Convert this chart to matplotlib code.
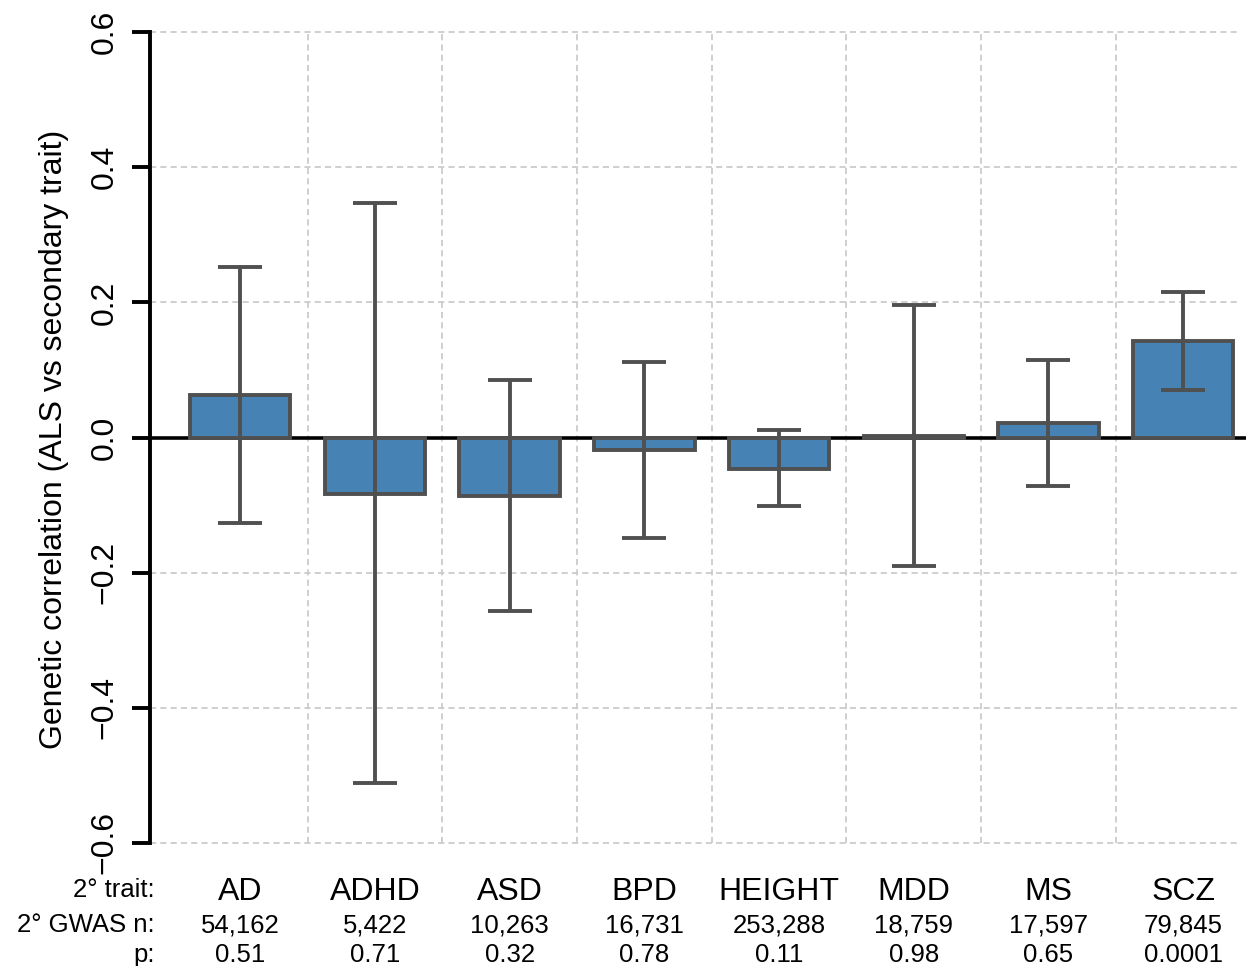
import numpy as np
import matplotlib
matplotlib.use("Agg")
import matplotlib.pyplot as plt
from matplotlib.transforms import blended_transform_factory

plt.rcParams['font.family'] = ['Liberation Sans', 'DejaVu Sans']

# genetic correlation of ALS with each secondary trait, with 95% CI
traits = ["AD", "ADHD", "ASD", "BPD", "HEIGHT", "MDD", "MS", "SCZ"]
gwas_n = ["54,162", "5,422", "10,263", "16,731", "253,288", "18,759", "17,597", "79,845"]
pvals = ["0.51", "0.71", "0.32", "0.78", "0.11", "0.98", "0.65", "0.0001"]
rg = np.array([0.063, -0.083, -0.086, -0.019, -0.046, 0.002, 0.021, 0.143])
ci_lo = np.array([-0.126, -0.511, -0.256, -0.149, -0.101, -0.190, -0.072, 0.071])
ci_hi = np.array([0.252, 0.347, 0.085, 0.112, 0.011, 0.196, 0.114, 0.215])
yticks = [-0.6, -0.4, -0.2, 0.0, 0.2, 0.4, 0.6]

GREY = "#505050"
FILL = "#4682B4"
GRID = "#CBCBCB"

fig = plt.figure(figsize=(12.46, 9.66), dpi=100)
ax = fig.add_axes([150/1246, 1-843/966, 1095/1246, 811/966])
xs = np.arange(len(traits))
x0, x1 = -0.670, 7.459
ax.set_xlim(x0, x1)
ax.set_ylim(-0.6, 0.6)

# dashed grid: rows at the ticks, columns between bars
for y in yticks:
    if y != 0:
        ax.plot([x0, 7.42], [y, y], color=GRID, lw=1.3, ls=(0, (3.4, 2.3)),
                zorder=0, clip_on=False)
for xv in xs[:-1] + 0.5:
    ax.plot([xv, xv], [-0.6, 0.6], color=GRID, lw=1.3, ls=(0, (3.4, 2.3)),
            zorder=0, clip_on=False)

ax.axhline(0, color="black", lw=2.6, zorder=1, clip_on=False)
ax.bar(xs, rg, width=0.746, color=FILL, edgecolor=GREY, linewidth=2.8, zorder=2)
ax.errorbar(xs, rg, yerr=[rg - ci_lo, ci_hi - rg], fmt="none", ecolor=GREY,
            elinewidth=2.8, capsize=15.5, capthick=2.8, zorder=3)

for side in ["top", "right", "bottom"]:
    ax.spines[side].set_visible(False)
ax.spines["left"].set_linewidth(2.8)
ax.spines["left"].set_bounds(-0.6, 0.6)
ax.set_xticks([])
ax.set_yticks(yticks)
ax.set_yticklabels([f"{v:.1f}".replace("-", "\u2212") for v in yticks])
ax.tick_params(axis="y", length=13, width=2.8, pad=9, labelsize=23, labelrotation=90)
for lab in ax.get_yticklabels():
    lab.set_va("center")

fig.text(54/1246, 1-439/966, "Genetic correlation (ALS vs secondary trait)",
         rotation=90, ha="center", va="center", fontsize=23)

# table of trait info under the bars
tr = blended_transform_factory(ax.transData, fig.transFigure)
rows = [("2° trait:", traits, 23, 900), ("2° GWAS n:", gwas_n, 18.5, 932),
        ("p:", pvals, 18.5, 962)]
for head, vals, fs, ybase in rows:
    yf = 1 - ybase/966
    fig.text(155/1246, yf + (3/966 if fs > 20 else 0), head, ha="right",
             va="baseline", fontsize=18.5)
    for xv, v in zip(xs, vals):
        ax.text(xv, yf, v, transform=tr, ha="center", va="baseline", fontsize=fs)

fig.savefig("out.png", dpi=100, facecolor="white")
